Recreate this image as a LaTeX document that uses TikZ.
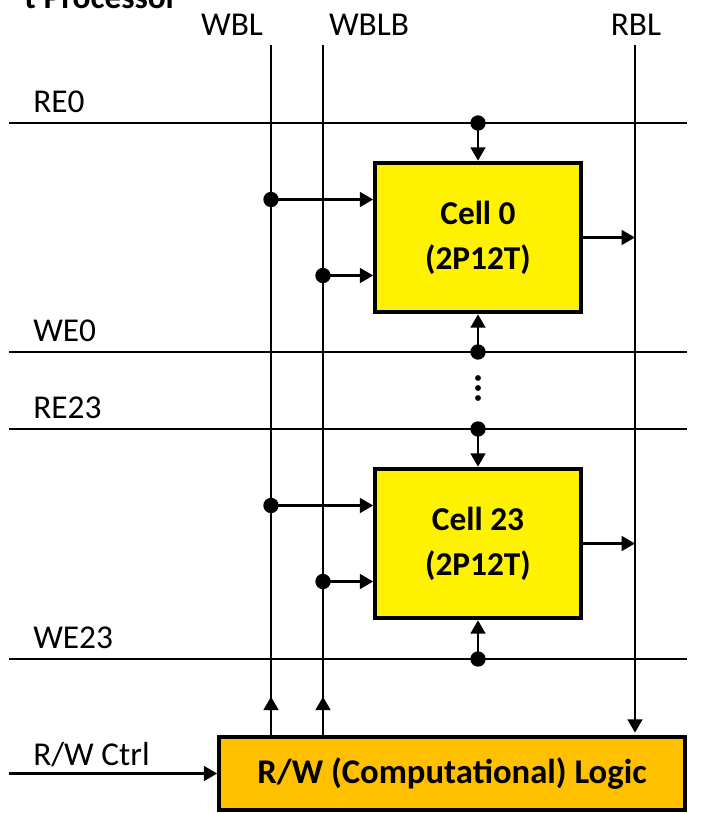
\documentclass[tikz,border=0pt]{standalone}
\usepackage{fontspec}
\setmainfont{Carlito}
\usetikzlibrary{arrows.meta}

\tikzset{
    wire/.style={line width=1.9pt},
    sig/.style={wire, -{Triangle[length=10pt,width=11pt]}},
    lbl/.style={font=\fontsize{25}{30}\selectfont, inner sep=0pt},
    cellbox/.style={draw, line width=3.2pt, fill=yellow, minimum width=154pt, minimum height=112pt,
        align=center, font=\bfseries\fontsize{25}{34}\selectfont},
    logicbox/.style={draw, line width=3.2pt, fill={rgb,255:red,255;green,192;blue,0}, minimum width=349pt,
        minimum height=55pt, font=\bfseries\fontsize{26}{30}\selectfont},
    junc/.style={fill, circle, inner sep=0pt, minimum size=11.5pt},
}

\begin{document}
\begin{tikzpicture}[x=0.75pt, y=-0.75pt]
    \useasboundingbox (0,0) rectangle (715,813);

    % title cut off at the top
    \node[anchor=base east, inner sep=0pt, font=\bfseries\fontsize{25}{30}\selectfont] (title) at (178,9) {t Processor};

    % bit lines
    \coordinate (wbl) at (271,45);
    \coordinate (wblb) at (323,45);
    \coordinate (rbl) at (635,45);
    \node[lbl] (wbl lbl) at (232,25) {WBL};
    \node[lbl] (wblb lbl) at (369,25) {WBLB};
    \node[lbl] (rbl lbl) at (636,25) {RBL};

    % word lines
    \foreach \nm/\y in {RE0/123, WE0/352, RE23/429, WE23/659} {
        \coordinate (\nm w) at (9,\y);
        \coordinate (\nm e) at (687,\y);
        \draw[wire] (\nm w) -- (\nm e);
        \node[lbl, anchor=west] (\nm lbl) at (33,\y-21) {\nm};
    }

    % logic
    \node[logicbox] (lg) at (452,773.5) {R/W (Computational) Logic};
    \coordinate (ctrl) at (9,773.5);
    \node[lbl, anchor=west] (ctrl lbl) at (33,755) {R/W Ctrl};
    \draw[sig] (ctrl) -- (lg.west);

    \draw[wire] (wbl) -- (wbl |- lg.north);
    \draw[wire] (wblb) -- (wblb |- lg.north);
    \draw[sig] (wbl |- lg.north) -- ++(0,-38);
    \draw[sig] (wblb |- lg.north) -- ++(0,-38);
    \draw[sig, shorten >=1.5pt] (rbl) -- (rbl |- lg.north);

    % cells
    \foreach \c/\y/\re/\we/\txt in {c0/237.5/RE0/WE0/Cell 0, c23/543.5/RE23/WE23/Cell 23} {
        \node[cellbox] (\c) at (478,\y) {\txt\\(2P12T)};
        \node[junc] (\c rd) at (\re w -| \c.north) {};
        \node[junc] (\c wr) at (\we w -| \c.south) {};
        \draw[sig] (\c rd.center) -- (\c.north);
        \draw[sig] (\c wr.center) -- (\c.south);
        \node[junc] (\c a) at (271,\y-38) {};
        \node[junc] (\c b) at (323,\y+38) {};
        \draw[sig] (\c a.center) -- (\c a.center -| \c.west);
        \draw[sig] (\c b.center) -- (\c b.center -| \c.west);
        \draw[sig] (\c.east) -- (\c.east -| rbl);
    }

    % ellipsis between the cells
    \foreach \i in {0,1,2}
        \fill (478,378+10*\i) circle (2.2pt);
\end{tikzpicture}
\end{document}
